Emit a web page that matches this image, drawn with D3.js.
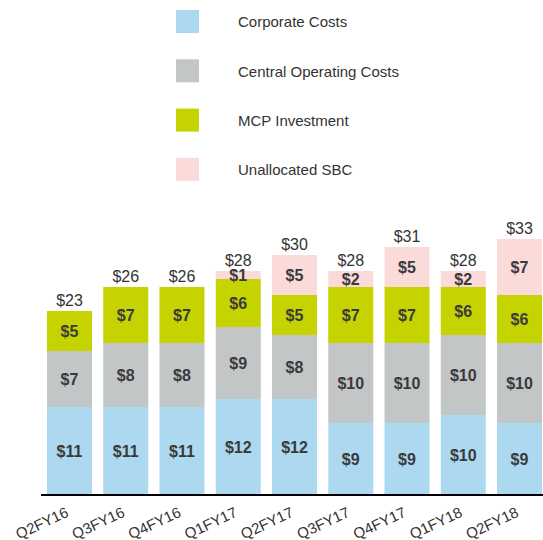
<!DOCTYPE html>
<html>
<head>
<meta charset="utf-8">
<script src="https://cdn.jsdelivr.net/npm/d3@7"></script>
<style>
  body { margin: 0; background: #fff; }
  text { font-family: "Liberation Sans", Arial, sans-serif; fill: #333; }
</style>
</head>
<body>
<div class="chart"></div>
<script>
// data
var quarters = ["Q2FY16", "Q3FY16", "Q4FY16", "Q1FY17", "Q2FY17", "Q3FY17", "Q4FY17", "Q1FY18", "Q2FY18"];
var seriesNames = ["Corporate Costs", "Central Operating Costs", "MCP Investment", "Unallocated SBC"];
var corporateCosts = [11, 11, 11, 12, 12, 9, 9, 10, 9];
var centralOperating = [7, 8, 8, 9, 8, 10, 10, 10, 10];
var mcpInvestment = [5, 7, 7, 6, 5, 7, 7, 6, 6];
var unallocatedSBC = [0, 0, 0, 1, 5, 2, 5, 2, 7];
var totals = [23, 26, 26, 28, 30, 28, 31, 28, 33];

var colors = ["#acd8f0", "#c3c6c6", "#c5d400", "#fbdada"];

var svgWidth = 543;
var svgHeight = 540;

var svg = d3.select(".chart")
  .append("svg")
  .attr("width", svgWidth)
  .attr("height", svgHeight);

// build rows for the stack
var rows = quarters.map(function(q, i) {
  return {
    quarter: q,
    "Corporate Costs": corporateCosts[i],
    "Central Operating Costs": centralOperating[i],
    "MCP Investment": mcpInvestment[i],
    "Unallocated SBC": unallocatedSBC[i],
    total: totals[i]
  };
});

var stacked = d3.stack().keys(seriesNames)(rows);

var xScale = d3.scaleBand()
  .domain(quarters)
  .range([40, 549])
  .paddingInner(0.2)
  .paddingOuter(0.124);

var yScale = d3.scaleLinear()
  .domain([0, 33])
  .range([495, 231]);

// bars
var layers = svg.selectAll("g.layer")
  .data(stacked)
  .enter()
  .append("g")
  .attr("class", "layer")
  .attr("fill", (d, i) => colors[i]);

layers.selectAll("rect")
  .data(d => d)
  .enter()
  .append("rect")
  .attr("x", d => xScale(d.data.quarter))
  .attr("y", d => yScale(d[1]))
  .attr("width", xScale.bandwidth())
  .attr("height", d => yScale(d[0]) - yScale(d[1]));

// segment labels
layers.selectAll("text")
  .data(d => d.filter(s => s[1] - s[0] > 0))
  .enter()
  .append("text")
  .attr("x", d => xScale(d.data.quarter) + xScale.bandwidth() / 2)
  .attr("y", d => (yScale(d[0]) + yScale(d[1])) / 2)
  .attr("dy", "0.36em")
  .attr("text-anchor", "middle")
  .style("font-size", "16px")
  .style("font-weight", "bold")
  .style("fill", "#3a3a3a")
  .text(d => "$" + (d[1] - d[0]));

// totals on top
var lastLayer = stacked[stacked.length - 1];
svg.selectAll("text.total")
  .data(lastLayer)
  .enter()
  .append("text")
  .attr("class", "total")
  .attr("x", d => xScale(d.data.quarter) + xScale.bandwidth() / 2)
  .attr("y", d => yScale(d[1]) - 5)
  .attr("text-anchor", "middle")
  .style("font-size", "16px")
  .text(d => "$" + d.data.total);

// axis
var xAxis = d3.axisBottom(xScale).tickSize(0).tickPadding(0);
var axisGroup = svg.append("g")
  .attr("transform", "translate(0, 495)")
  .call(xAxis);

axisGroup.selectAll(".domain")
  .attr("d", "M41,0H543")
  .attr("stroke", "#000")
  .attr("stroke-width", 2);

axisGroup.selectAll(".tick text")
  .attr("text-anchor", "end")
  .attr("x", 0)
  .attr("y", 21)
  .attr("dy", 0)
  .attr("transform", "rotate(-25, 0, 21)")
  .style("font-size", "15px")
  .style("font-family", "'Liberation Sans', Arial, sans-serif")
  .attr("fill", "#333");

// legend
var legend = svg.selectAll("g.legend")
  .data(seriesNames)
  .enter()
  .append("g")
  .attr("class", "legend")
  .attr("transform", (d, i) => `translate(176, ${10 + i * 49.3})`);

legend.append("rect")
  .attr("width", 23)
  .attr("height", 23)
  .attr("fill", (d, i) => colors[i]);

legend.append("text")
  .attr("x", 62)
  .attr("y", 12)
  .attr("dy", "0.36em")
  .style("font-size", "15px")
  .text(d => d);
</script>
</body>
</html>
